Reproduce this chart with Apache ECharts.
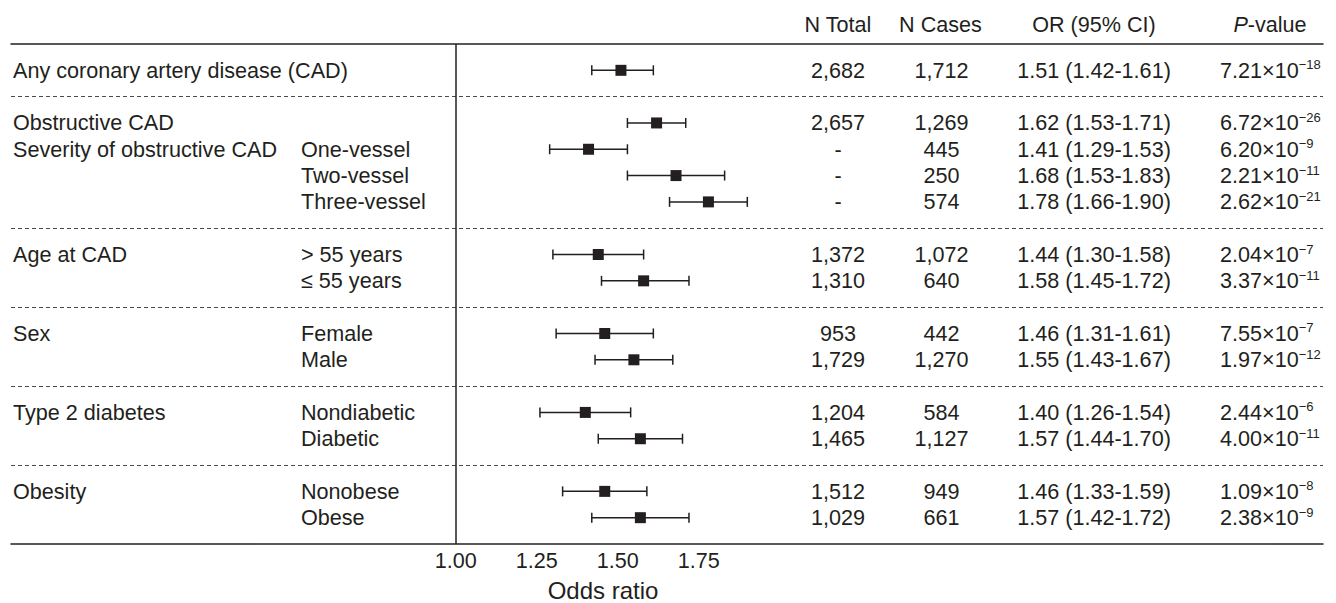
<!DOCTYPE html>
<html>
<head>
<meta charset="utf-8">
<script src="https://cdn.jsdelivr.net/npm/echarts@6/dist/echarts.min.js"></script>
<style>
html,body{margin:0;padding:0;background:#ffffff;}
#chart{width:1336px;height:603px;}
</style>
</head>
<body>
<div id="chart"></div>
<script>
// ---------------- data ----------------
const groupLabels = ['Any coronary artery disease (CAD)', 'Obstructive CAD', 'Severity of obstructive CAD', '', '', 'Age at CAD', '', 'Sex', '', 'Type 2 diabetes', '', 'Obesity', ''];
const subLabels = ['', '', 'One-vessel', 'Two-vessel', 'Three-vessel', '> 55 years', '\u2264 55 years', 'Female', 'Male', 'Nondiabetic', 'Diabetic', 'Nonobese', 'Obese'];
const groupIndex = [0, 1, 1, 1, 1, 2, 2, 3, 3, 4, 4, 5, 5];
const orValues = [1.51, 1.62, 1.41, 1.68, 1.78, 1.44, 1.58, 1.46, 1.55, 1.40, 1.57, 1.46, 1.57];
const ciLow = [1.42, 1.53, 1.29, 1.53, 1.66, 1.30, 1.45, 1.31, 1.43, 1.26, 1.44, 1.33, 1.42];
const ciHigh = [1.61, 1.71, 1.53, 1.83, 1.90, 1.58, 1.72, 1.61, 1.67, 1.54, 1.70, 1.59, 1.72];
const nTotal = ['2,682', '2,657', '-', '-', '-', '1,372', '1,310', '953', '1,729', '1,204', '1,465', '1,512', '1,029'];
const nCases = ['1,712', '1,269', '445', '250', '574', '1,072', '640', '442', '1,270', '584', '1,127', '949', '661'];
const pMantissa = ['7.21', '6.72', '6.20', '2.21', '2.62', '2.04', '3.37', '7.55', '1.97', '2.44', '4.00', '1.09', '2.38'];
const pExponent = [-18, -26, -9, -11, -21, -7, -11, -7, -12, -6, -11, -8, -9];
const headers = ['N Total', 'N Cases', 'OR (95% CI)', 'P-value'];
const tickValues = [1.00, 1.25, 1.50, 1.75];
const axisTitle = 'Odds ratio';

// ---------------- styles / layout ----------------
const FONT = '"Liberation Sans", Arial, Helvetica, sans-serif';
const INK = '#231f20';
const FS = 21.6;
const W = 1336, H = 603;
const GRID_LEFT = 11, GRID_RIGHT = 13, GRID_TOP = 44, GRID_BOTTOM = 59;
const X_AT_ONE = 455.7, PX_PER_UNIT = 324;
const gridWidth = W - GRID_LEFT - GRID_RIGHT;
const xMin = 1 - (X_AT_ONE - GRID_LEFT) / PX_PER_UNIT;
const xMax = xMin + gridWidth / PX_PER_UNIT;
const COL = { group: 13, sub: 301, nTotal: 838, nCases: 941.5, or: 1094, p: 1220 };
const HEADER_X = [838, 940.5, 1094, 1270];
const HEADER_Y = 24;

const rowSlot = groupLabels.map((_, i) => i + groupIndex[i]);
const lastSlot = rowSlot[rowSlot.length - 1];
const separators = [];
for (let i = 1; i < rowSlot.length; i++) {
  if (groupIndex[i] !== groupIndex[i - 1]) separators.push(rowSlot[i] - 1);
}

const fmt2 = v => v.toFixed(2);

const chart = echarts.init(document.getElementById('chart'), null, { renderer: 'svg', width: W, height: H });

function txt(x, y, text, align, extra) {
  return {
    type: 'text', x: x, y: y, silent: true,
    style: Object.assign({
      text: text, fill: INK, fontSize: FS, fontFamily: FONT,
      align: align, verticalAlign: 'middle'
    }, extra || {})
  };
}

const option = {
  backgroundColor: '#ffffff',
  animation: false,
  grid: { left: GRID_LEFT, right: GRID_RIGHT, top: GRID_TOP, bottom: GRID_BOTTOM, containLabel: false },
  xAxis: [
    {
      type: 'value', min: xMin, max: xMax, position: 'bottom',
      axisLine: { show: true, onZero: false, lineStyle: { color: INK, width: 1.5 } },
      axisTick: { show: false },
      splitLine: { show: false },
      axisLabel: {
        customValues: tickValues, formatter: v => fmt2(v),
        color: INK, fontSize: FS, fontFamily: FONT, margin: 5
      }
    },
    {
      type: 'value', min: xMin, max: xMax, position: 'top',
      axisLine: { show: true, onZero: false, lineStyle: { color: INK, width: 1.5 } },
      axisTick: { show: false }, axisLabel: { show: false }, splitLine: { show: false }
    }
  ],
  yAxis: { type: 'value', inverse: true, min: -1, max: lastSlot + 1, show: false,
           axisLine: { onZero: false }, splitLine: { show: false } },
  graphic: [
    ...headers.map((h, i) => {
      if (h.indexOf('P-') === 0) {
        return txt(HEADER_X[i], HEADER_Y, '{it|P}-value', 'center', {
          rich: { it: { fontStyle: 'italic', fontSize: FS, fontFamily: FONT, fill: INK } }
        });
      }
      return txt(HEADER_X[i], HEADER_Y, h, 'center');
    }),
    txt(603, 590, axisTitle, 'center', { fontSize: 24 })
  ],
  series: [
    {
      type: 'custom', name: 'forest', silent: true, clip: false,
      xAxisIndex: 0, yAxisIndex: 0,
      data: rowSlot.map((k, i) => [orValues[i], k, ciLow[i], ciHigh[i]]),
      encode: { x: [0, 2, 3], y: 1 },
      renderItem: function (params, api) {
        const k = api.value(1);
        const c = api.coord([api.value(0), k]);
        const l = api.coord([api.value(2), k]);
        const r = api.coord([api.value(3), k]);
        const cap = 5, sq = 11;
        const ls = { stroke: INK, lineWidth: 1.5 };
        return {
          type: 'group',
          children: [
            { type: 'line', shape: { x1: l[0], y1: c[1], x2: r[0], y2: c[1] }, style: ls },
            { type: 'line', shape: { x1: l[0], y1: c[1] - cap, x2: l[0], y2: c[1] + cap }, style: ls },
            { type: 'line', shape: { x1: r[0], y1: c[1] - cap, x2: r[0], y2: c[1] + cap }, style: ls },
            { type: 'rect', shape: { x: c[0] - sq / 2, y: c[1] - sq / 2, width: sq, height: sq }, style: { fill: INK } }
          ]
        };
      },
      markLine: {
        silent: true, symbol: ['none', 'none'], animation: false,
        label: { show: false },
        data: [
          ...separators.map(v => ({ yAxis: v, lineStyle: { color: '#4a4a4a', width: 1, type: [4, 3] } })),
          { xAxis: 1, lineStyle: { color: INK, width: 1.5, type: 'solid' } }
        ]
      },
      z: 3
    },
    {
      type: 'custom', name: 'table', silent: true, clip: false,
      xAxisIndex: 0, yAxisIndex: 0,
      data: rowSlot.map((k, i) => [1, k, i]),
      encode: { x: 0, y: 1 },
      renderItem: function (params, api) {
        const i = api.value(2);
        const y = api.coord([1, api.value(1)])[1];
        const orText = fmt2(orValues[i]) + ' (' + fmt2(ciLow[i]) + '-' + fmt2(ciHigh[i]) + ')';
        const pText = '{m|' + pMantissa[i] + '\u00d710}{s|\u2212' + Math.abs(pExponent[i]) + '}';
        return {
          type: 'group',
          children: [
            txt(COL.group, y, groupLabels[i], 'left'),
            txt(COL.sub, y, subLabels[i], 'left'),
            txt(COL.nTotal, y, nTotal[i], 'center'),
            txt(COL.nCases, y, nCases[i], 'center'),
            txt(COL.or, y, orText, 'center'),
            txt(COL.p, y, pText, 'left', {
              rich: {
                m: { fontSize: FS, fontFamily: FONT, fill: INK, lineHeight: 24 },
                s: { fontSize: 13, fontFamily: FONT, fill: INK, lineHeight: 13, verticalAlign: 'top' }
              }
            })
          ]
        };
      },
      z: 4
    }
  ]
};

chart.setOption(option);
</script>
</body>
</html>
